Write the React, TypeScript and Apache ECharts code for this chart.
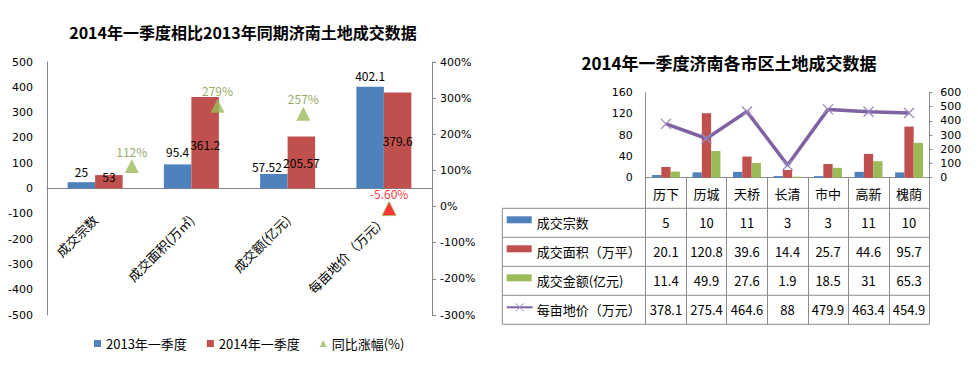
import React, { useEffect, useRef } from 'react';
import * as echarts from 'echarts';

// ---------- Left chart data ----------
const leftTitle = '2014年一季度相比2013年同期济南土地成交数据';
const leftCategories = ['成交宗数', '成交面积(万㎡)', '成交额(亿元)', '每亩地价（万元）'];
const q2013 = [25, 95.4, 57.52, 402.1];
const q2014 = [53, 361.2, 205.57, 379.6];
const yoyPct = [112, 279, 257, -5.6];
const yoyLabels = ['112%', '279%', '257%', '-5.60%'];
const leftSeriesNames = ['2013年一季度', '2014年一季度', '同比涨幅(%)'];

// ---------- Right chart data ----------
const rightTitle = '2014年一季度济南各市区土地成交数据';
const districts = ['历下', '历城', '天桥', '长清', '市中', '高新', '槐荫'];
const dealCount = [5, 10, 11, 3, 3, 11, 10];
const dealArea = [20.1, 120.8, 39.6, 14.4, 25.7, 44.6, 95.7];
const dealAmount = [11.4, 49.9, 27.6, 1.9, 18.5, 31, 65.3];
const landPrice = [378.1, 275.4, 464.6, 88, 479.9, 463.4, 454.9];
const rightSeriesNames = ['成交宗数', '成交面积（万平）', '成交金额(亿元)', '每亩地价（万元）'];

// ---------- Styles ----------
const BLUE = '#4F81BD';
const RED = '#C0504D';
const GREEN = '#9BBB59';
const PURPLE = '#7F62A1';
const AXIS = '#868686';
const GRID_LINE = '#8C8C8C';
const CJK = "'Noto Sans CJK SC', 'Noto Sans', sans-serif";
const NUM = "'DejaVu Sans', 'Noto Sans CJK SC', sans-serif";
const blueLabelOffset = [[0, 0], [0, -2], [-7, 4], [0, 0]];
const redLabelOffset = [[0, 12], [0, 58], [0, 37], [0, 59]];

export default function App() {
  const ref = useRef<HTMLDivElement>(null);

  useEffect(() => {
    document.body.style.margin = '0';
    const chart = echarts.init(ref.current!, null, { renderer: 'svg' });

    const option: any = {
      animation: false,
      backgroundColor: '#ffffff',
      grid: [
        { left: 47, right: 546, top: 62, bottom: 54, containLabel: false, outerBoundsMode: 'none' },
        { left: 88.9, right: 546, top: 62, bottom: 54, containLabel: false, outerBoundsMode: 'none' },
        { left: 645.7, right: 48.7, top: 92.3, bottom: 191.3, containLabel: false, outerBoundsMode: 'none' },
      ],
      legend: {
        left: 89,
        top: 332,
        itemWidth: 7,
        itemHeight: 7,
        itemGap: 20,
        textStyle: { fontFamily: CJK, fontSize: 13, color: '#000' },
        data: [
          { name: leftSeriesNames[0], icon: 'rect' },
          { name: leftSeriesNames[1], icon: 'rect' },
          { name: leftSeriesNames[2], icon: 'triangle' },
        ],
      },
      xAxis: [
        {
          type: 'category',
          gridIndex: 0,
          data: leftCategories,
          offset: 0,
          axisLine: { onZero: false, lineStyle: { color: AXIS } },
          axisTick: { show: false },
          axisLabel: {
            rotate: 45,
            margin: 29,
            interval: 0,
            fontFamily: CJK,
            fontSize: 13,
            color: '#000',
          },
        },
        {
          type: 'category',
          gridIndex: 1,
          data: leftCategories,
          show: false,
        },
        {
          type: 'category',
          gridIndex: 2,
          data: districts,
          axisLine: { lineStyle: { color: GRID_LINE } },
          axisTick: { show: true, interval: 0, length: 146.6, lineStyle: { color: GRID_LINE } },
          axisLabel: { margin: 9, interval: 0, fontFamily: CJK, fontSize: 13, color: '#000' },
        },
      ],
      yAxis: [
        {
          type: 'value',
          gridIndex: 0,
          min: -500,
          max: 500,
          interval: 100,
          axisLine: { show: true, lineStyle: { color: AXIS } },
          axisTick: { show: false },
          splitLine: { show: false },
          axisLabel: { margin: 14, fontFamily: NUM, fontSize: 11, color: '#000' },
        },
        {
          type: 'value',
          gridIndex: 1,
          position: 'right',
          min: -300,
          max: 400,
          interval: 100,
          axisLine: { show: true, lineStyle: { color: AXIS } },
          axisTick: { show: true, length: 4, lineStyle: { color: AXIS } },
          splitLine: { show: false },
          axisLabel: { margin: 8, formatter: '{value}%', fontFamily: NUM, fontSize: 11, color: '#000' },
        },
        {
          type: 'value',
          gridIndex: 2,
          min: 0,
          max: 160,
          interval: 40,
          axisLine: { show: true, lineStyle: { color: GRID_LINE } },
          axisTick: { show: false },
          splitLine: { show: false },
          axisLabel: { margin: 13, fontFamily: NUM, fontSize: 11, color: '#000' },
        },
        {
          type: 'value',
          gridIndex: 2,
          position: 'right',
          min: 0,
          max: 600,
          interval: 100,
          axisLine: { show: true, lineStyle: { color: GRID_LINE } },
          axisTick: { show: true, length: 3, lineStyle: { color: GRID_LINE } },
          splitLine: { show: false },
          axisLabel: { margin: 11, fontFamily: NUM, fontSize: 11, color: '#000' },
        },
      ],
      series: [
        {
          name: leftSeriesNames[0],
          type: 'bar',
          xAxisIndex: 0,
          yAxisIndex: 0,
          barWidth: 27.5,
          barGap: '0%',
          itemStyle: { color: BLUE },
          data: q2013.map((v, i) => ({
            value: v,
            label: { offset: blueLabelOffset[i] },
          })),
          label: { show: true, position: 'top', fontFamily: CJK, fontSize: 12, color: '#000' },
        },
        {
          name: leftSeriesNames[1],
          type: 'bar',
          xAxisIndex: 0,
          yAxisIndex: 0,
          barWidth: 27.5,
          barGap: '0%',
          itemStyle: { color: RED },
          data: q2014.map((v, i) => ({
            value: v,
            label: { offset: redLabelOffset[i] },
          })),
          label: { show: true, position: 'top', fontFamily: CJK, fontSize: 12, color: '#000' },
        },
        {
          name: leftSeriesNames[2],
          type: 'scatter',
          xAxisIndex: 1,
          yAxisIndex: 1,
          symbol: 'triangle',
          symbolSize: [14, 14],
          itemStyle: { color: GREEN },
          z: 5,
          data: yoyPct.map((v, i) => ({
            value: v,
            itemStyle: v < 0 ? { color: '#FF0000', borderColor: GREEN, borderWidth: 1 } : undefined,
            label: {
              show: true,
              position: 'top',
              offset: [0, 3],
              formatter: yoyLabels[i],
              color: v < 0 ? '#FF0000' : '#76923C',
              fontFamily: CJK,
              fontSize: 12,
            },
          })),
        },
        {
          name: rightSeriesNames[0],
          type: 'bar',
          xAxisIndex: 2,
          yAxisIndex: 2,
          barWidth: 9.3,
          barGap: '0%',
          itemStyle: { color: BLUE },
          data: dealCount,
        },
        {
          name: rightSeriesNames[1],
          type: 'bar',
          xAxisIndex: 2,
          yAxisIndex: 2,
          barWidth: 9.3,
          barGap: '0%',
          itemStyle: { color: RED },
          data: dealArea,
        },
        {
          name: rightSeriesNames[2],
          type: 'bar',
          xAxisIndex: 2,
          yAxisIndex: 2,
          barWidth: 9.3,
          barGap: '0%',
          itemStyle: { color: GREEN },
          data: dealAmount,
        },
        {
          name: rightSeriesNames[3],
          type: 'line',
          xAxisIndex: 2,
          yAxisIndex: 3,
          z: 6,
          symbol: 'path://M0,0L10,10M10,0L0,10',
          symbolSize: 10,
          showSymbol: true,
          lineStyle: { color: PURPLE, width: 3.5 },
          itemStyle: { color: '#9C88BE', borderColor: '#9C88BE', borderWidth: 1.3 },
          data: landPrice,
        },
      ],
    };

    chart.setOption(option);

    // ----- move the left category axis up to the zero line of its value axis -----
    const zeroY = chart.convertToPixel({ yAxisIndex: 0 }, 0) as number;
    const bottomY = chart.convertToPixel({ yAxisIndex: 0 }, -500) as number;
    chart.setOption({ xAxis: [{ offset: zeroY - bottomY }] });

    // ----- table below the right chart, positioned from the axis scales -----
    const centers = districts.map((_, i) => chart.convertToPixel({ xAxisIndex: 2 }, i) as number);
    const band = centers[1] - centers[0];
    const gridRight = centers[centers.length - 1] + band / 2;
    const axisY = chart.convertToPixel({ yAxisIndex: 2 }, 0) as number;
    const tableLeft = 502.3;
    const rowTop = axisY + 30.6;
    const rowH = 29;
    const rows = [dealCount, dealArea, dealAmount, landPrice];
    const keyColors = [BLUE, RED, GREEN];

    const graphics: any[] = [];
    graphics.push({
      type: 'text',
      x: 243,
      y: 32,
      style: {
        text: leftTitle,
        font: `bold 16px ${CJK}`,
        fill: '#000',
        align: 'center',
        verticalAlign: 'middle',
        textAlign: 'center',
        textVerticalAlign: 'middle',
      },
    });
    graphics.push({
      type: 'text',
      x: 729,
      y: 62,
      style: {
        text: rightTitle,
        font: `bold 17px ${CJK}`,
        fill: '#000',
        align: 'center',
        verticalAlign: 'middle',
        textAlign: 'center',
        textVerticalAlign: 'middle',
      },
    });
    for (let k = 0; k <= rows.length; k++) {
      const y = rowTop + k * rowH;
      graphics.push({
        type: 'line',
        shape: { x1: tableLeft, y1: y, x2: gridRight, y2: y },
        style: { stroke: GRID_LINE, lineWidth: 1 },
      });
    }
    graphics.push({
      type: 'line',
      shape: { x1: tableLeft, y1: rowTop, x2: tableLeft, y2: rowTop + rows.length * rowH },
      style: { stroke: GRID_LINE, lineWidth: 1 },
    });
    rows.forEach((vals, r) => {
      const cy = rowTop + (r + 0.5) * rowH;
      if (r < 3) {
        graphics.push({
          type: 'rect',
          shape: { x: tableLeft + 4.4, y: cy - 6.5, width: 25, height: 7 },
          style: { fill: keyColors[r] },
        });
      } else {
        graphics.push({
          type: 'line',
          shape: { x1: tableLeft + 4.4, y1: cy - 2.5, x2: tableLeft + 30.4, y2: cy - 2.5 },
          style: { stroke: PURPLE, lineWidth: 2 },
        });
        graphics.push({
          type: 'line',
          shape: { x1: tableLeft + 13.4, y1: cy - 6.5, x2: tableLeft + 21.4, y2: cy + 1.5 },
          style: { stroke: '#9C88BE', lineWidth: 1 },
        });
        graphics.push({
          type: 'line',
          shape: { x1: tableLeft + 21.4, y1: cy - 6.5, x2: tableLeft + 13.4, y2: cy + 1.5 },
          style: { stroke: '#9C88BE', lineWidth: 1 },
        });
      }
      graphics.push({
        type: 'text',
        x: tableLeft + 34.4,
        y: cy,
        style: {
          text: rightSeriesNames[r],
          font: `13px ${CJK}`,
          fill: '#000',
          align: 'left',
          verticalAlign: 'middle',
          textAlign: 'left',
          textVerticalAlign: 'middle',
        },
      });
      vals.forEach((v, i) => {
        graphics.push({
          type: 'text',
          x: centers[i],
          y: cy,
          style: {
            text: String(v),
            font: `13px ${CJK}`,
            fill: '#000',
            align: 'center',
            verticalAlign: 'middle',
            textAlign: 'center',
            textVerticalAlign: 'middle',
          },
        });
      });
    });

    chart.setOption({ graphic: { elements: graphics } });

    return () => {
      chart.dispose();
    };
  }, []);

  return <div ref={ref} style={{ width: 978, height: 369 }} />;
}
